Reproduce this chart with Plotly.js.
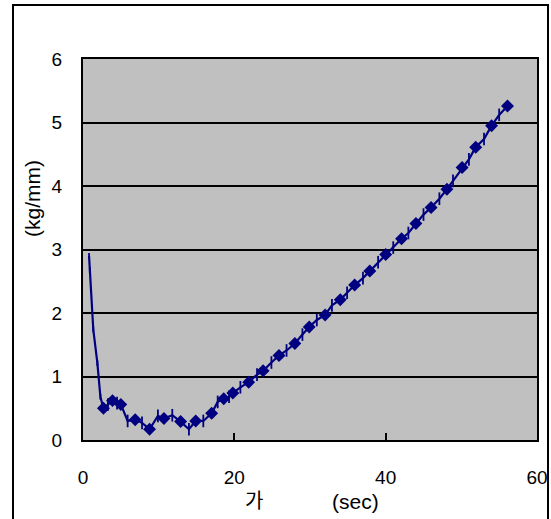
<!DOCTYPE html>
<html>
<head>
<meta charset="utf-8">
<script src="https://cdn.plot.ly/plotly-3.0.1.min.js"></script>
<style>html,body{margin:0;padding:0;background:#fff;}</style>
</head>
<body>
<div id="chart" style="width:551px;height:519px;"></div>
<script>
// time (sec)
const timeSec = [0.8, 0.9, 1.36, 1.9, 2.3, 2.7, 3.3, 3.9, 4.5, 5.0, 5.9, 6.9, 7.8, 8.8, 9.9, 10.7, 11.8, 12.9, 14.0, 14.9, 15.9, 17.0, 17.8, 18.6, 19.3, 19.8, 20.8, 21.9, 23.0, 23.8, 24.9, 25.9, 26.9, 28.0, 29.0, 29.9, 30.9, 32.0, 32.9, 34.0, 34.9, 35.9, 37.0, 37.9, 39.0, 40.0, 41.0, 42.1, 43.0, 44.0, 45.0, 46.0, 47.1, 48.1, 48.9, 50.1, 51.0, 51.9, 53.0, 54.0, 55.0, 56.1];
// value (kg/mm)
const valueKgMm = [2.9, 2.68, 1.74, 1.21, 0.68, 0.5, 0.56, 0.62, 0.58, 0.56, 0.30, 0.32, 0.27, 0.17, 0.38, 0.34, 0.39, 0.29, 0.17, 0.30, 0.30, 0.42, 0.60, 0.65, 0.68, 0.74, 0.83, 0.91, 1.03, 1.09, 1.22, 1.33, 1.41, 1.52, 1.66, 1.78, 1.89, 1.97, 2.12, 2.21, 2.32, 2.44, 2.55, 2.66, 2.80, 2.92, 3.03, 3.17, 3.26, 3.41, 3.55, 3.66, 3.80, 3.95, 4.08, 4.29, 4.42, 4.61, 4.74, 4.95, 5.12, 5.26];
const xTicks = [0, 20, 40, 60];
const yTicks = [0, 1, 2, 3, 4, 5, 6];

const firstMarked = 5;
const symbols = timeSec.map((_, i) => i < firstMarked ? 'line-ns' : ((i - firstMarked) % 2 === 0 ? 'diamond' : 'line-ns'));
const sizes = timeSec.map((_, i) => i < firstMarked ? 4 : ((i - firstMarked) % 2 === 0 ? 8 : 9));

const font = 'Liberation Sans, Arial, "Noto Sans CJK KR", sans-serif';
const navy = '#000080';

const trace = {
  x: timeSec, y: valueKgMm, type: 'scatter', mode: 'lines+markers',
  line: {color: navy, width: 2.2},
  marker: {symbol: symbols, size: sizes, color: navy, opacity: 1, line: {color: navy, width: 1.8}},
  hoverinfo: 'skip'
};

const layout = {
  width: 551, height: 519,
  margin: {l: 83, r: 14, t: 59, b: 79},
  paper_bgcolor: '#ffffff', plot_bgcolor: '#c0c0c0',
  showlegend: false,
  font: {family: font, size: 19, color: '#000'},
  xaxis: {
    range: [0, 60], tickvals: xTicks, ticktext: xTicks.map(String),
    showgrid: false, zeroline: false,
    showline: true, linecolor: '#000', linewidth: 2, mirror: true,
    ticks: 'inside', ticklen: 7, tickwidth: 2, tickcolor: '#000',
    ticklabelstandoff: 19,
    tickfont: {family: font, size: 19, color: '#000'}
  },
  yaxis: {
    range: [0, 6], tickvals: yTicks, ticktext: yTicks.map(String),
    showgrid: true, gridcolor: '#000', gridwidth: 2, zeroline: false,
    showline: true, linecolor: '#000', linewidth: 2, mirror: true,
    ticks: '', ticklabelstandoff: 15,
    tickfont: {family: font, size: 19, color: '#000'}
  },
  shapes: [{
    type: 'rect', xref: 'paper', yref: 'paper',
    x0: (13 - 83) / 454, x1: (548 - 83) / 454,
    y0: (440 - 530) / 381, y1: (440 - 5) / 381,
    line: {color: '#000', width: 2}, fillcolor: 'rgba(0,0,0,0)', layer: 'below'
  }],
  annotations: [
    {text: '(kg/mm)', xref: 'paper', yref: 'paper', x: (32 - 83) / 454, y: (440 - 199) / 381,
     textangle: -90, showarrow: false, xanchor: 'center', yanchor: 'middle',
     font: {family: font, size: 21, color: '#000'}},
    {text: '가', xref: 'paper', yref: 'paper', x: (254 - 83) / 454, y: (440 - 501) / 381,
     showarrow: false, xanchor: 'center', yanchor: 'middle',
     font: {family: font, size: 20, color: '#000'}},
    {text: '(sec)', xref: 'paper', yref: 'paper', x: (355 - 83) / 454, y: (440 - 501) / 381,
     showarrow: false, xanchor: 'center', yanchor: 'middle',
     font: {family: font, size: 21, color: '#000'}}
  ]
};

Plotly.newPlot('chart', [trace], layout, {staticPlot: true, displayModeBar: false});
</script>
</body>
</html>
